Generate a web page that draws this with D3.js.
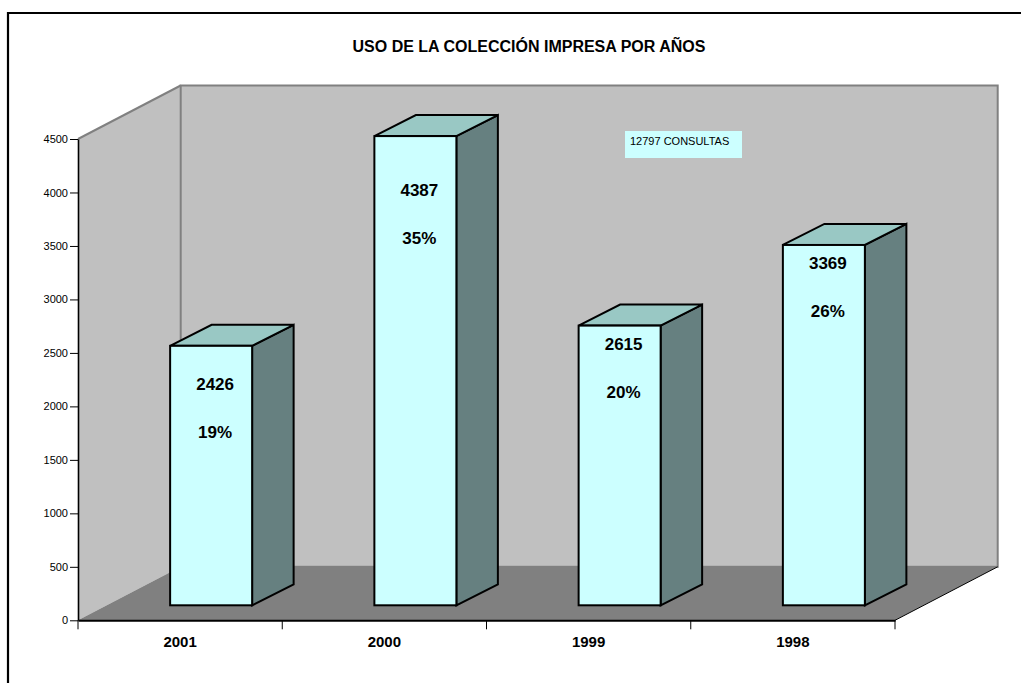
<!DOCTYPE html>
<html>
<head>
<meta charset="utf-8">
<script src="https://cdn.jsdelivr.net/npm/d3@7"></script>
<style>
  html, body { margin: 0; padding: 0; background: #ffffff; }
  svg { display: block; font-family: "Liberation Sans", Arial, sans-serif; }
</style>
</head>
<body>
<svg id="chart" width="1021" height="683"></svg>
<script>
// ---- data ----
const categories = ["2001", "2000", "1999", "1998"];
const values = [2426, 4387, 2615, 3369];
const percentLabels = ["19%", "35%", "20%", "26%"];
const yTicks = [0, 500, 1000, 1500, 2000, 2500, 3000, 3500, 4000, 4500];
const titleText = "USO DE LA COLECCIÓN IMPRESA POR AÑOS";
const noteSuffix = " CONSULTAS";

// ---- layout (not data) ----
const labelDrop = [38, 54, 18, 18]; // px below bar top for value labels (hand-placed in original)
const plot = { left: 78, right: 895, bottom: 620.3, top: 139 };
const depth = { dx: 102.7, dy: 53.5 };      // 3D wall depth
const barShift = { dx: 31, dy: 15 };         // front face offset from floor front
const barDepth = { dx: 41.5, dy: 21 };       // bar box depth
const barWidth = 82;

const svg = d3.select("#chart");

const y = d3.scaleLinear().domain([0, 4500]).range([plot.bottom, plot.top]);
const x = d3.scaleBand().domain(categories).range([plot.left, plot.right]).padding(0);

// outer border (only top/left visible)
svg.append("path")
  .attr("d", "M8,700 L8,13 L1030,13")
  .attr("fill", "none").attr("stroke", "#000").attr("stroke-width", 2.2);

// title
svg.append("text")
  .attr("x", 529).attr("y", 52)
  .attr("text-anchor", "middle")
  .attr("font-weight", "bold").attr("font-size", 16)
  .text(titleText);

const line = d3.line();
const bx0 = plot.left + depth.dx, byTop = plot.top - depth.dy, byBot = plot.bottom - depth.dy;
const bx1 = plot.right + depth.dx;

// left side wall
svg.append("path")
  .attr("d", line([[plot.left, plot.top], [bx0, byTop], [bx0, byBot], [plot.left, plot.bottom]]) + "Z")
  .attr("fill", "#c0c0c0").attr("stroke", "none");
svg.append("path")
  .attr("d", line([[plot.left, plot.top], [bx0, byTop]]))
  .attr("stroke", "#808080").attr("stroke-width", 2).attr("fill", "none");

// back wall
svg.append("rect")
  .attr("x", bx0).attr("y", byTop).attr("width", bx1 - bx0).attr("height", byBot - byTop)
  .attr("fill", "#c0c0c0").attr("stroke", "#808080").attr("stroke-width", 2);

// floor
svg.append("path")
  .attr("d", line([[plot.left, plot.bottom], [bx0, byBot], [bx1, byBot], [plot.right, plot.bottom]]) + "Z")
  .attr("fill", "#808080").attr("stroke", "none");
svg.append("path")
  .attr("d", line([[plot.right, plot.bottom], [bx1, byBot]]))
  .attr("stroke", "#000").attr("stroke-width", 1).attr("fill", "none");

// note box
const total = d3.sum(values);
const note = svg.append("g").attr("transform", "translate(625,131)");
note.append("rect").attr("width", 117).attr("height", 27).attr("fill", "#ccffff");
note.append("text").attr("x", 5).attr("y", 14).attr("font-size", 11).text(total + noteSuffix);

// bars
const bars = svg.append("g");
categories.forEach((c, i) => {
  const v = values[i];
  const cx = x(c) + x.bandwidth() / 2 + barShift.dx;
  const x0 = cx - barWidth / 2, x1 = cx + barWidth / 2;
  const yt = y(v) - barShift.dy, yb = y(0) - barShift.dy;
  const g = bars.append("g").attr("stroke", "#000").attr("stroke-width", 2).attr("stroke-linejoin", "miter");
  g.append("path")
    .attr("d", line([[x1, yt], [x1 + barDepth.dx, yt - barDepth.dy], [x1 + barDepth.dx, yb - barDepth.dy], [x1, yb]]) + "Z")
    .attr("fill", "#668080");
  g.append("path")
    .attr("d", line([[x0, yt], [x0 + barDepth.dx, yt - barDepth.dy], [x1 + barDepth.dx, yt - barDepth.dy], [x1, yt]]) + "Z")
    .attr("fill", "#99c8c4");
  g.append("rect")
    .attr("x", x0).attr("y", yt).attr("width", x1 - x0).attr("height", yb - yt)
    .attr("fill", "#ccffff");
  const ly = yt + labelDrop[i];
  bars.append("text")
    .attr("x", cx + 4).attr("y", ly).attr("dy", "0.36em")
    .attr("text-anchor", "middle").attr("font-weight", "bold").attr("font-size", 17)
    .text(v);
  bars.append("text")
    .attr("x", cx + 4).attr("y", ly + 48).attr("dy", "0.36em")
    .attr("text-anchor", "middle").attr("font-weight", "bold").attr("font-size", 17)
    .text(percentLabels[i]);
});

// y axis
const yAxis = svg.append("g")
  .attr("transform", `translate(${plot.left},0)`)
  .call(d3.axisLeft(y).tickValues(yTicks).tickFormat(d3.format("d"))
    .tickSizeInner(8).tickSizeOuter(0).tickPadding(2));
yAxis.select(".domain").attr("stroke", "#000").attr("stroke-width", 1.6);
yAxis.selectAll(".tick line").attr("stroke", "#000");
yAxis.selectAll(".tick text").attr("font-size", 11).attr("font-family", "Liberation Sans, Arial, sans-serif").attr("fill", "#000");

// x axis (floor front edge + boundary ticks)
const xAxis = svg.append("g")
  .attr("transform", `translate(0,${plot.bottom})`)
  .call(d3.axisBottom(x).tickSize(0).tickPadding(16));
xAxis.select(".domain").attr("stroke", "#000").attr("stroke-width", 2);
xAxis.selectAll(".tick text")
  .attr("font-size", 15).attr("font-weight", "bold")
  .attr("font-family", "Liberation Sans, Arial, sans-serif").attr("fill", "#000");
const bounds = categories.map(c => x(c)).concat([plot.right]);
xAxis.selectAll(".bound").data(bounds).join("line")
  .attr("class", "bound")
  .attr("x1", d => d).attr("x2", d => d).attr("y1", 0).attr("y2", 9)
  .attr("stroke", "#000").attr("stroke-width", 1);
</script>
</body>
</html>
